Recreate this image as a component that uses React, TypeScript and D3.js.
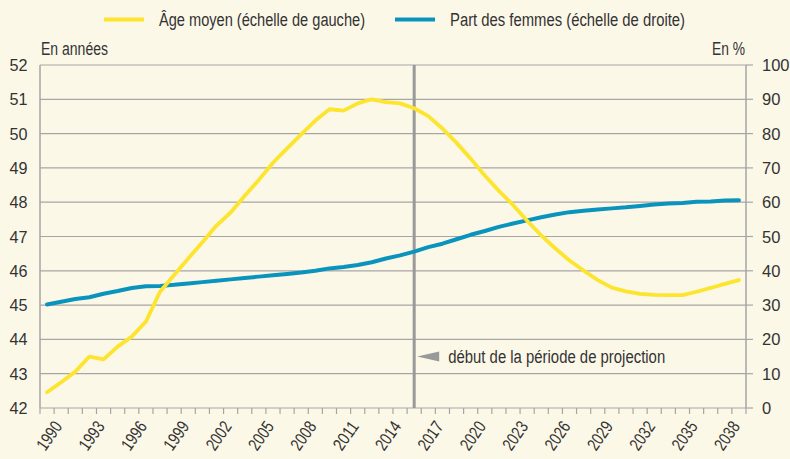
import { scaleBand, scaleLinear, line as d3_line, range } from "d3";

const years = range(1990, 2040);

// Âge moyen, échelle de gauche (années)
const ageMoyen = [
  42.46, 42.75, 43.06, 43.5, 43.42, 43.79, 44.08, 44.52, 45.39, 45.88,
  46.36, 46.83, 47.32, 47.7, 48.19, 48.65, 49.15, 49.57, 49.98, 50.38,
  50.71, 50.67, 50.88, 51.0, 50.92, 50.88, 50.74, 50.51, 50.15, 49.73,
  49.27, 48.78, 48.33, 47.92, 47.46, 47.03, 46.65, 46.3, 46.01, 45.73,
  45.51, 45.4, 45.33, 45.3, 45.29, 45.29, 45.39, 45.5, 45.62, 45.73,
];

// Part des femmes, échelle de droite (%)
const partFemmes = [
  30.2, 31.0, 31.8, 32.3, 33.3, 34.1, 35.0, 35.5, 35.6, 35.9,
  36.3, 36.7, 37.1, 37.5, 37.9, 38.3, 38.7, 39.1, 39.5, 40.0,
  40.7, 41.1, 41.7, 42.5, 43.6, 44.5, 45.6, 46.9, 47.9, 49.2,
  50.5, 51.6, 52.8, 53.8, 54.7, 55.6, 56.4, 57.1, 57.5, 57.9,
  58.2, 58.5, 58.9, 59.3, 59.6, 59.8, 60.1, 60.2, 60.5, 60.6,
];

const leftTicks = [42, 43, 44, 45, 46, 47, 48, 49, 50, 51, 52];
const rightTicks = [0, 10, 20, 30, 40, 50, 60, 70, 80, 90, 100];
const xLabelYears = years.filter((y) => (y - 1990) % 3 === 0);
const projectionYear = 2016;

const FONT = "'Liberation Sans', Arial, sans-serif";
const YELLOW = "#fde42f";
const BLUE = "#0a94bd";
const GRID = "#a6a6a6";
const TEXT = "#333";

export default function App() {
  const width = 790;
  const height = 459;
  const margin = { top: 65, right: 44, bottom: 51, left: 40 };

  const x = scaleBand<number>()
    .domain(years)
    .range([margin.left, width - margin.right]);
  const yLeft = scaleLinear().domain([42, 52]).range([height - margin.bottom, margin.top]);
  const yRight = scaleLinear().domain([0, 100]).range([height - margin.bottom, margin.top]);

  const cx = (yr: number) => (x(yr) ?? 0) + x.bandwidth() / 2;

  const ageLine = d3_line<number>()
    .x((_, i) => cx(years[i]))
    .y((d) => yLeft(d));
  const femLine = d3_line<number>()
    .x((_, i) => cx(years[i]))
    .y((d) => yRight(d));

  const x0 = margin.left;
  const x1 = width - margin.right;
  const yBottom = height - margin.bottom;
  const projX = cx(projectionYear);
  const annY = yRight(15);

  return (
    <div style={{ position: "absolute", left: 0, top: 0 }}>
      <svg width={width} height={height} style={{ display: "block", fontFamily: FONT }}>
        <rect width={width} height={height} fill="#fcf8e8" />

        {/* Legend */}
        <line x1={104} x2={144} y1={19.5} y2={19.5} stroke={YELLOW} strokeWidth={4} />
        <text x={159} y={25.5} fontSize={18} fill={TEXT} textLength={206} lengthAdjust="spacingAndGlyphs">
          Âge moyen (échelle de gauche)
        </text>
        <line x1={395} x2={435} y1={19.5} y2={19.5} stroke={BLUE} strokeWidth={4} />
        <text x={450} y={25.5} fontSize={18} fill={TEXT} textLength={235} lengthAdjust="spacingAndGlyphs">
          Part des femmes (échelle de droite)
        </text>

        {/* Axis titles */}
        <text x={x0 + 1} y={55} fontSize={17.5} fill={TEXT} textLength={67} lengthAdjust="spacingAndGlyphs">
          En années
        </text>
        <text x={x1 - 34} y={55} fontSize={17.5} fill={TEXT} textLength={33} lengthAdjust="spacingAndGlyphs">
          En %
        </text>

        {/* Grid lines */}
        {leftTicks.map((t) => (
          <line key={t} x1={x0} x2={x1} y1={yLeft(t)} y2={yLeft(t)} stroke={GRID} strokeWidth={1.2} />
        ))}

        {/* Left axis */}
        <line x1={x0} x2={x0} y1={margin.top} y2={yBottom} stroke={GRID} strokeWidth={1.5} />
        {leftTicks.map((t) => (
          <text key={t} x={27.5} y={yLeft(t) + 6} fontSize={16.5} fill={TEXT} textAnchor="end" textLength={18} lengthAdjust="spacingAndGlyphs">
            {t}
          </text>
        ))}

        {/* Right axis */}
        <line x1={x1} x2={x1} y1={margin.top} y2={yBottom} stroke={GRID} strokeWidth={1.5} />
        {rightTicks.map((t) => (
          <g key={t}>
            <line x1={x1} x2={x1 + 7} y1={yRight(t)} y2={yRight(t)} stroke={GRID} strokeWidth={1.2} />
            <text x={762} y={yRight(t) + 6} fontSize={16.5}>
              <tspan fill={TEXT}>{t}</tspan>
            </text>
          </g>
        ))}

        {/* Bottom axis ticks */}
        {[...years, years[years.length - 1] + 1].map((yr, i) => {
          const px = i < years.length ? x(yr) ?? 0 : x1;
          return <line key={yr} x1={px} x2={px} y1={yBottom} y2={yBottom + 6} stroke={GRID} strokeWidth={1.2} />;
        })}
        {xLabelYears.map((yr) => (
          <text
            key={yr}
            transform={`translate(${cx(yr) + 11},${yBottom + 15}) rotate(-55)`}
            fontSize={17.5}
            fill={TEXT}
            textAnchor="end"
            dominantBaseline="central"
            textLength={31}
            lengthAdjust="spacingAndGlyphs"
          >
            {yr}
          </text>
        ))}

        {/* Projection marker */}
        <line x1={projX} x2={projX} y1={margin.top} y2={yBottom} stroke="#999" strokeWidth={3} />
        <path
          d={`M${projX + 3},${annY} L${projX + 25},${annY - 5} L${projX + 25},${annY + 5} Z`}
          fill="#999"
        />
        <text x={projX + 34} y={annY + 6.5} fontSize={18} fill={TEXT} textLength={217} lengthAdjust="spacingAndGlyphs">
          début de la période de projection
        </text>

        {/* Series */}
        <path d={femLine(partFemmes) ?? ""} fill="none" stroke={BLUE} strokeWidth={4} strokeLinejoin="round" strokeLinecap="round" />
        <path d={ageLine(ageMoyen) ?? ""} fill="none" stroke={YELLOW} strokeWidth={3.8} strokeLinejoin="round" strokeLinecap="round" />
      </svg>
    </div>
  );
}
